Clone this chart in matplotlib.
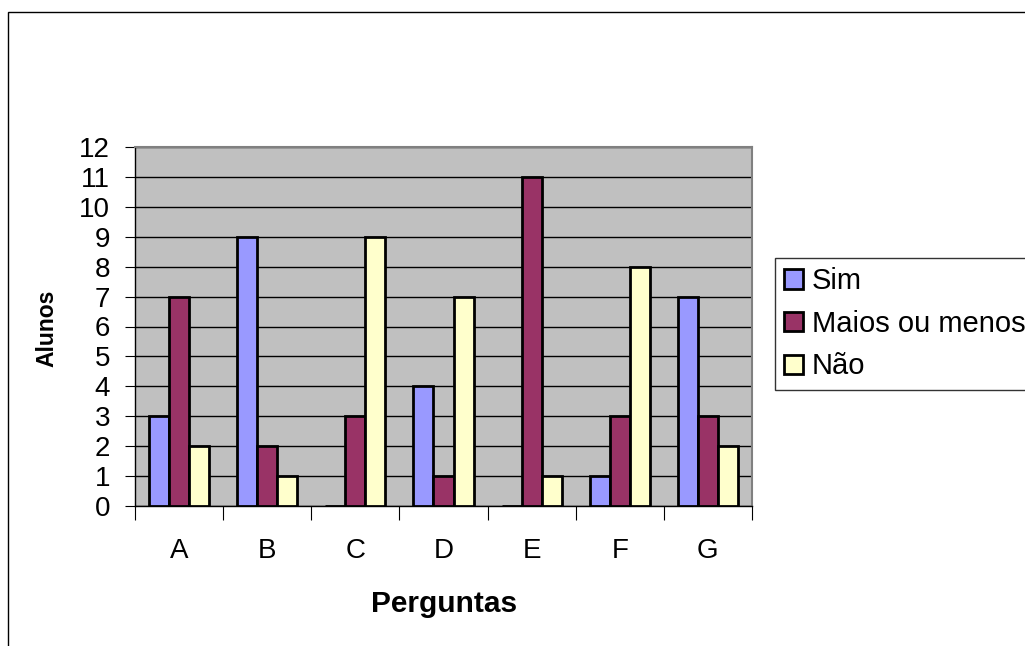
import numpy as np
import matplotlib.pyplot as plt
from matplotlib.patches import Rectangle

perguntas = ["A", "B", "C", "D", "E", "F", "G"]
sim = [3, 9, 0, 4, 0, 1, 7]
maios = [7, 2, 3, 1, 11, 3, 3]
nao = [2, 1, 9, 7, 1, 8, 2]
series_names = ["Sim", "Maios ou menos", "Não"]

plt.rcParams["font.family"] = ["Liberation Sans", "DejaVu Sans"]

W, H = 1025, 646
fig = plt.figure(figsize=(W / 100, H / 100), dpi=100)
ax = fig.add_axes([135 / W, 1 - 506 / H, 617 / W, (506 - 147) / H])

# outer chart border (cut off on right/bottom like the original)
fig.patches.append(Rectangle((8 / W, -0.1), 1.2, 1 - 12 / H + 0.1, transform=fig.transFigure,
                             fill=False, edgecolor="black", linewidth=1.0))

x = np.arange(len(perguntas))
bw = 0.227
colors = ["#9999FF", "#993366", "#FFFFCC"]
for i, (vals, col, name) in enumerate(zip([sim, maios, nao], colors, series_names)):
    ax.bar(x + (i - 1) * bw, vals, bw, color=col, edgecolor="black", linewidth=2.0,
           label=name, zorder=3)

ax.set_facecolor("#C0C0C0")
ax.set_xlim(-0.5, len(perguntas) - 0.5)
ax.set_ylim(0, 12)
ax.set_yticks(range(0, 13))
ax.yaxis.grid(True, color="black", linewidth=1.0, zorder=1)
ax.set_axisbelow(True)

ax.set_xticks(np.arange(-0.5, len(perguntas), 1.0))
ax.set_xticklabels([])
ax.set_xticks(x, minor=True)
ax.set_xticklabels(perguntas, minor=True)
ax.tick_params(axis="x", which="major", length=10, direction="out", color="black")
ax.tick_params(axis="x", which="minor", length=0, pad=23, labelsize=20)
ax.tick_params(axis="y", length=7, direction="out", pad=11, labelsize=20)

for s in ["top", "right"]:
    ax.spines[s].set_color("#808080")
    ax.spines[s].set_linewidth(1.5)
for s in ["left", "bottom"]:
    ax.spines[s].set_color("black")
    ax.spines[s].set_linewidth(1.0)

fig.text(47 / W, 1 - 328 / H, "Alunos", rotation=90, ha="center", va="center",
         fontsize=16.5, fontweight="bold")
fig.text(444 / W, 1 - 604 / H, "Perguntas", ha="center", va="center",
         fontsize=21.5, fontweight="bold")

# legend runs off the right edge, as in the original
leg = fig.legend(loc="upper left", bbox_to_anchor=(775 / W, 1 - 258 / H),
                 fontsize=21, frameon=True, fancybox=False, edgecolor="black",
                 handlelength=0.65, handleheight=0.65, handletextpad=0.3,
                 borderpad=0.32, labelspacing=0.5, borderaxespad=0)
leg.get_frame().set_linewidth(1.0)

fig.savefig("out.png", dpi=100)
